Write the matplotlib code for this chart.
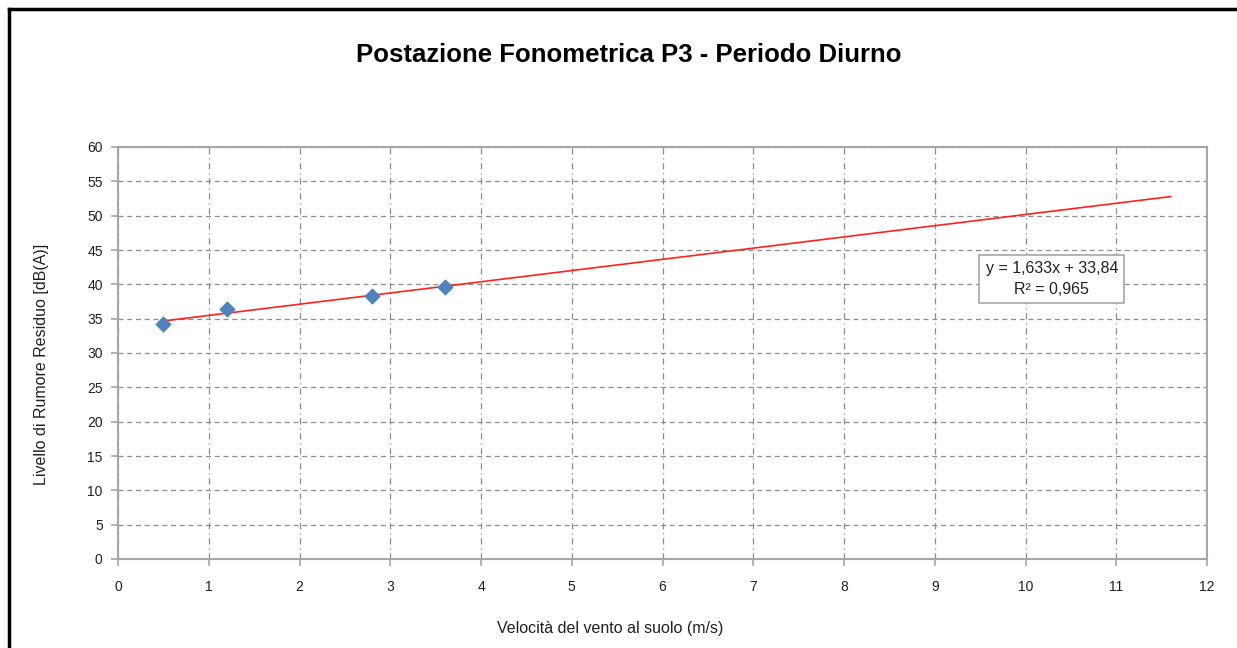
import matplotlib.pyplot as plt
from matplotlib.lines import Line2D

# misure (velocità vento, livello residuo)
vento = [0.5, 1.2, 2.8, 3.6]
livello = [34.2, 36.4, 38.3, 39.6]

# linea di tendenza lineare (come da etichetta)
pendenza = 1.633
intercetta = 33.84
trend_x = [0.5, 11.6]
etichetta = 'y = 1,633x + 33,84\nR² = 0,965'

x_ticks = list(range(0, 13))
y_ticks = list(range(0, 61, 5))

plt.rcParams['font.family'] = ['Liberation Sans', 'DejaVu Sans']

fig = plt.figure(figsize=(12.37, 6.48), dpi=100)
ax = fig.add_axes([118 / 1237, 1 - 559 / 648, 1089 / 1237, 412 / 648])

grey = '#a6a6a6'
ax.scatter(vento, livello, marker='D', s=55, color='#4f81bd', zorder=3)
trend_y = [pendenza * x + intercetta for x in trend_x]
ax.plot(trend_x, trend_y, color='#ff2020', lw=1.2, zorder=2)

ax.set_xlim(0, 12)
ax.set_ylim(0, 60)
ax.set_xticks(x_ticks)
ax.set_yticks(y_ticks)
ax.yaxis.grid(True, linestyle=(0, (4, 3)), color='#8c8c8c', lw=0.9)
ax.xaxis.grid(True, linestyle=(0, (5, 3, 1, 3)), color='#8c8c8c', lw=0.9)
ax.set_axisbelow(True)
for s in ax.spines.values():
    s.set_color(grey)
    s.set_linewidth(1.5)
ax.tick_params(direction='out', length=5, width=1.2, color=grey,
               labelsize=10, labelcolor='#202020')
ax.tick_params(axis='x', pad=10)
ax.tick_params(axis='y', pad=6)

ax.set_xlabel('Velocità del vento al suolo (m/s)', fontsize=11.5, color='#202020', va='center')
ax.set_ylabel('Livello di Rumore Residuo [dB(A)]', fontsize=11.5, color='#202020', va='center')
ax.xaxis.set_label_coords(0.452, -0.1675)
ax.yaxis.set_label_coords(-0.0698, 0.473)

ax.text(10.29, 40.8, etichetta, ha='center', va='center', fontsize=11.5,
        linespacing=1.45, color='#202020',
        bbox=dict(boxstyle='square,pad=0.4', fc='white', ec=grey, lw=1.2))

fig.text(629 / 1237, 1 - 55 / 648, 'Postazione Fonometrica P3 - Periodo Diurno',
         ha='center', va='center', fontsize=18.5, fontweight='bold')

# cornice nera (lato sinistro e superiore)
fig.add_artist(Line2D([9 / 1237, 9 / 1237], [0, 1 - 9 / 648], transform=fig.transFigure,
                      color='black', lw=2.5))
fig.add_artist(Line2D([9 / 1237, 1], [1 - 9 / 648, 1 - 9 / 648], transform=fig.transFigure,
                      color='black', lw=2.5))

fig.savefig('out.png', dpi=100)
